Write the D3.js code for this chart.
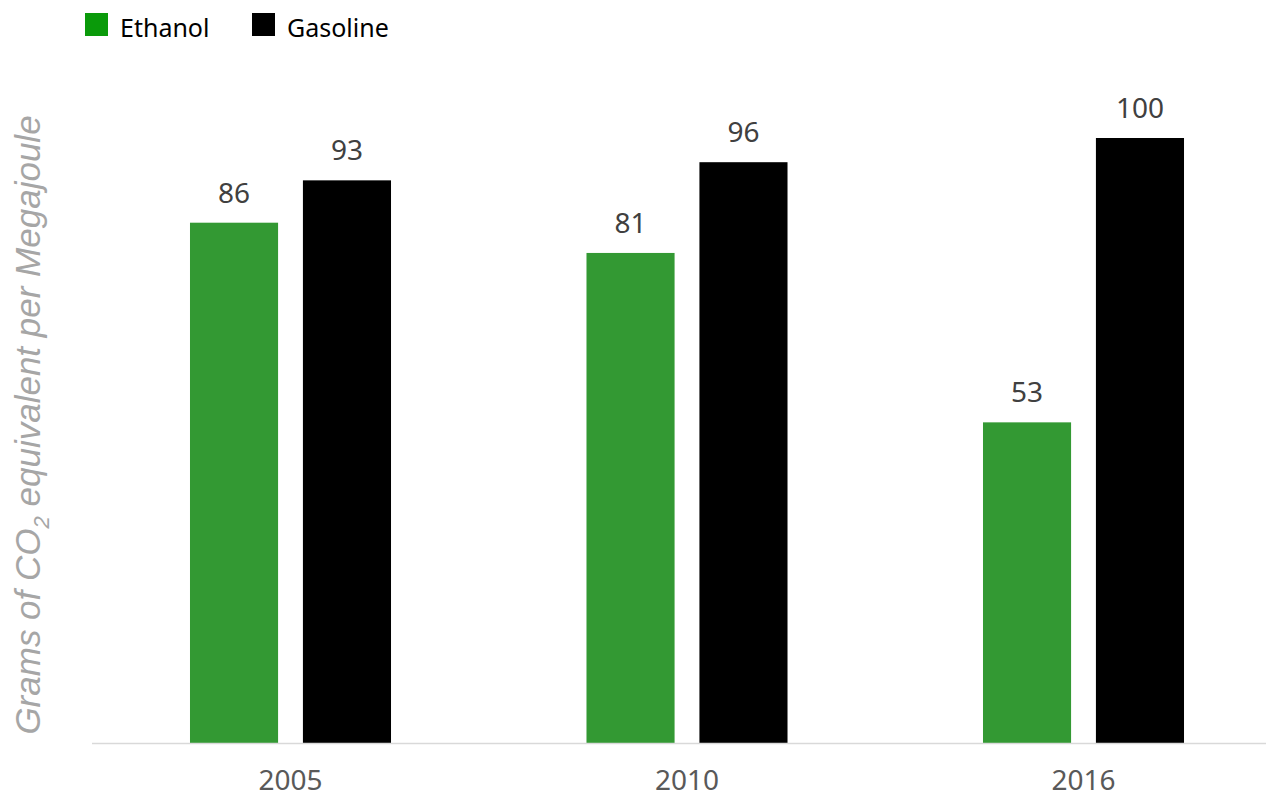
<!DOCTYPE html>
<html>
<head>
<meta charset="utf-8">
<script src="https://cdn.jsdelivr.net/npm/d3@7"></script>
<style>
  html, body { margin: 0; padding: 0; background: #fff; }
  svg { display: block; }
</style>
</head>
<body>
<svg id="chart" width="1266" height="797"></svg>
<script>
const years = ["2005", "2010", "2016"];
const seriesNames = ["Ethanol", "Gasoline"];
const ethanolValues = [86, 81, 53];
const gasolineValues = [93, 96, 100];
const seriesColors = ["#339933", "#000000"];
const legendColors = ["#0a9a0a", "#000000"];

const svg = d3.select("#chart");
const W = 1266, H = 797;
const font = "'Noto Sans', 'Open Sans', sans-serif";

const x0 = d3.scaleBand().domain(years).range([92.25, 1281.75]).paddingInner(0.493).paddingOuter(0.2465);
const x1 = d3.scaleBand().domain(seriesNames).range([0, x0.bandwidth()]).paddingInner(0.22).paddingOuter(0);
const y = d3.scaleLinear().domain([0, 100]).range([743, 138]);

const data = years.map((yr, i) => ({ year: yr, values: [
  { name: seriesNames[0], value: ethanolValues[i], color: seriesColors[0] },
  { name: seriesNames[1], value: gasolineValues[i], color: seriesColors[1] }
]}));

const groups = svg.selectAll("g.grp").data(data).enter().append("g")
  .attr("class", "grp")
  .attr("transform", d => `translate(${x0(d.year)},0)`);

groups.selectAll("rect").data(d => d.values).enter().append("rect")
  .attr("x", d => x1(d.name))
  .attr("y", d => y(d.value))
  .attr("width", x1.bandwidth())
  .attr("height", d => y(0) - y(d.value))
  .attr("fill", d => d.color);

groups.selectAll("text.val").data(d => d.values).enter().append("text")
  .attr("class", "val")
  .attr("x", d => x1(d.name) + x1.bandwidth() / 2)
  .attr("y", d => y(d.value) - 20)
  .attr("text-anchor", "middle")
  .attr("font-family", font)
  .attr("font-size", 28)
  .attr("fill", "#404040")
  .text(d => d.value);

// baseline axis
const xAxis = d3.axisBottom(x0).tickSize(0).tickPadding(0);
const ax = svg.append("g").attr("transform", `translate(0,${y(0)})`).call(xAxis);
ax.select(".domain").remove();
ax.selectAll("text")
  .attr("font-family", font)
  .attr("font-size", 28)
  .attr("fill", "#595959")
  .attr("dy", null)
  .attr("y", 47);
svg.append("line")
  .attr("x1", 92).attr("x2", W)
  .attr("y1", y(0) + 0.5).attr("y2", y(0) + 0.5)
  .attr("stroke", "#d9d9d9").attr("stroke-width", 1.5);

// legend
const legendX = [85, 252];
const lg = svg.selectAll("g.leg").data(seriesNames).enter().append("g")
  .attr("class", "leg")
  .attr("transform", (d, i) => `translate(${legendX[i]},13)`);
lg.append("rect").attr("width", 23).attr("height", 23).attr("fill", (d, i) => legendColors[i]);
lg.append("text").attr("x", 35).attr("y", 24)
  .attr("font-family", font).attr("font-size", 25).attr("fill", "#000")
  .text(d => d);

// y axis title
const yt = svg.append("text")
  .attr("transform", "translate(40,425) rotate(-90)")
  .attr("text-anchor", "middle")
  .attr("font-family", "'Liberation Sans', Arial, sans-serif")
  .attr("font-style", "italic")
  .attr("font-size", 35)
  .attr("fill", "#a6a6a6");
yt.append("tspan").text("Grams of CO");
yt.append("tspan").attr("font-size", 22).attr("dy", 9).text("2");
yt.append("tspan").attr("dy", -9).text("  equivalent per Megajoule");
</script>
</body>
</html>
